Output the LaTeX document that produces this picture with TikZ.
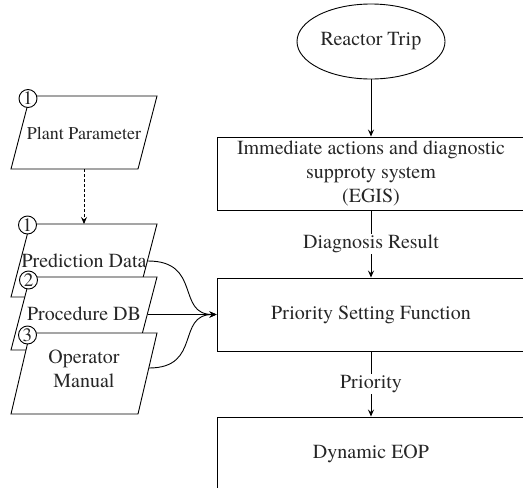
\documentclass[tikz,border=0pt]{standalone}
\usepackage{fontspec}
\setmainfont{TeX Gyre Termes}
\usetikzlibrary{shapes.geometric,arrows.meta}
\begin{document}
\begin{tikzpicture}[x=1pt,y=-1pt,
  every node/.style={font=\fontsize{20}{24}\selectfont,text=black!85},
  arr/.style={line width=0.9pt,-{Stealth[length=7pt,width=6pt,inset=2.5pt]}},
  box/.style={draw,line width=0.9pt,fill=white,minimum width=308pt,minimum height=73pt,inner sep=0pt,align=center},
  num/.style={draw,circle,fill=white,line width=0.9pt,minimum size=18pt,inner sep=0pt,font=\fontsize{19}{19}\selectfont},
  para/.style={draw,line width=0.9pt,fill=white},
  lbl/.style={fill=white,inner sep=1pt}
]
\useasboundingbox (0,0) rectangle (523,488);
\clip (0,0) rectangle (523,488);

% right column
\node[draw,ellipse,line width=0.9pt,minimum width=148pt,minimum height=75pt,inner sep=0pt] (trip) at (371,41.5) {Reactor Trip};
\node[box] (egis) at (371,173.5) {Immediate actions and diagnostic\\supproty system\\(EGIS)};
\node[box] (prio) at (371,314.5) {Priority Setting Function};
\node[box] (eop) at (371,453.5) {Dynamic EOP};

\draw[arr] (trip) -- (egis);
\draw[arr] (egis) -- node[lbl] {Diagnosis Result} (prio);
\draw[arr] (prio) -- node[lbl] {Priority} (eop);

% left column
\path[para] (11,169) -- (30,96) -- (157,96) -- (138,169) -- cycle;
\node (plant) at (84,133) {\fontsize{18}{22}\selectfont Plant Parameter};
\node[num] (n0) at (28,98.5) {1};

\path[para] (11,297) -- (30,224) -- (157,224) -- (138,297) -- cycle;
\node (pred) at (84,261) {Prediction Data};
\node[num] (n1) at (27.5,225) {1};

\path[para] (11,350) -- (30,277) -- (157,277) -- (138,350) -- cycle;
\node (proc) at (84,314) {Procedure DB};
\node[num] (n2) at (28.5,280) {2};

\path[para] (11,414) -- (30,333) -- (157,333) -- (138,414) -- cycle;
\node[align=center] (oper) at (84,369) {Operator\\Manual};
\node[num] (n3) at (27.5,335) {3};

\coordinate (plantout) at (84,169);
\coordinate (predin) at (84,224);
\draw[arr,dashed,dash pattern=on 3pt off 2pt] (plantout) -- (predin);

\coordinate (predout) at (148,261);
\coordinate (procout) at (147.5,314.5);
\coordinate (operout) at (149,368);
\draw[arr] (predout) .. controls (202,261) and (176,314.5) .. (prio.west);
\draw[arr] (operout) .. controls (202,368) and (176,314.5) .. (prio.west);
\draw[arr] (procout) -- (prio.west);
\end{tikzpicture}
\end{document}
